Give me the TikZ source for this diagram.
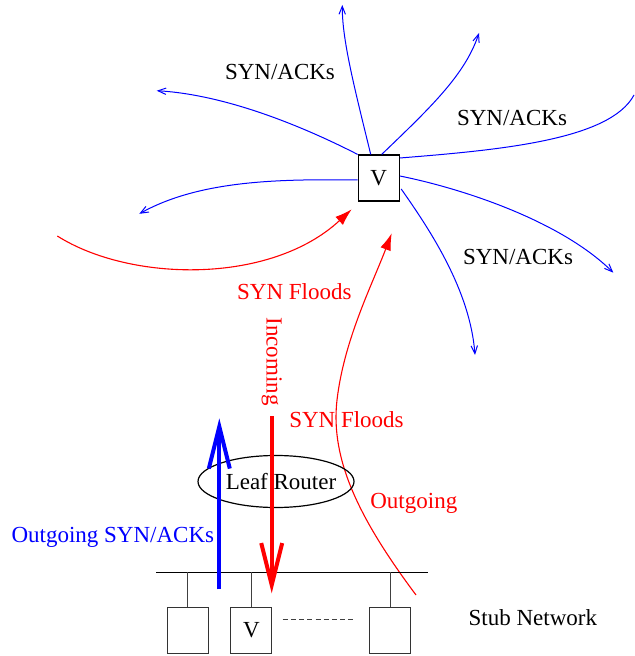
\documentclass[tikz,border=0pt]{standalone}
\usepackage{fontspec}
\setmainfont{Liberation Serif}
\usetikzlibrary{arrows.meta,shapes.geometric}
\begin{document}
\begin{tikzpicture}[x=0.5pt,y=-0.5pt,
  lbl/.style={font=\fontsize{11.5}{13}\selectfont,inner sep=0pt,anchor=base},
  synack/.style={draw=blue,line width=0.5pt,-{Straight Barb[length=4pt,width=3.2pt]}},
  flood/.style={draw=red,line width=0.55pt,-{Latex[length=8.5pt,width=5.5pt]}},
  fat/.style={line width=2pt,-{Straight Barb[length=21pt,width=10.5pt]}},
  hostbox/.style={draw=black!80,line width=0.6pt,minimum width=20.5pt,minimum height=23pt,inner sep=0pt,font=\fontsize{11.5}{13}\selectfont},
  drop/.style={draw=black!75,line width=0.6pt}]
\useasboundingbox (0,0) rectangle (634,656);

% victim node
\node[draw,line width=0.6pt,minimum width=20.5pt,minimum height=23pt,inner sep=0pt,font=\fontsize{11.5}{13}\selectfont] (V) at (378.7,178) {V};

% free ends
\coordinate (e1) at (342.3,5);
\coordinate (e2) at (479,33);
\coordinate (e3) at (634,95);
\coordinate (e4) at (613.3,272.7);
\coordinate (e5) at (475,355);
\coordinate (e6) at (156.7,90.7);
\coordinate (e7) at (139.3,213.8);

% SYN/ACK curves out of V
\draw[synack] ([xshift=-4pt]V.north) .. controls (355,90) and (342,40) .. (e1);
\draw[synack] ([xshift=1.5pt]V.north) .. controls (430,108) and (465,75) .. (e2);
\draw[draw=blue,line width=0.5pt] ([yshift=10pt]V.east) .. controls (500,150) and (610,140) .. (e3);
\draw[synack] ([yshift=1pt]V.east) .. controls (460,188) and (560,220) .. (e4);
\draw[synack] ([yshift=-5.5pt,xshift=0.7pt]V.east) .. controls (430,230) and (470,290) .. (e5);
\draw[synack] (V.north west) .. controls (310,130) and (230,95) .. (e6);
\draw[synack] ([yshift=-1pt]V.west) .. controls (280,179) and (200,180) .. (e7);

% red floods toward V
\coordinate (a0) at (57.3,236);
\coordinate (a1) at (351.7,209.3);
\draw[flood] (a0) .. controls (130,282) and (270,285) .. (a1);
\coordinate (b0) at (416,595);
\coordinate (b1) at (337,400);
\coordinate (b2) at (391.7,233.3);
\draw[flood] (b0) .. controls (360,520) and (330,460) .. (b1) .. controls (344,340) and (372,285) .. (b2);

% labels
\node[lbl] (l1) at (280,80) {SYN/ACKs};
\node[lbl] (l2) at (512,126) {SYN/ACKs};
\node[lbl] (l3) at (518,265) {SYN/ACKs};
\node[lbl,red] (l4) at (294.3,300) {SYN Floods};
\node[lbl,red,rotate=-90] (l5) at (266.7,361.7) {Incoming};
\node[lbl,red] (l6) at (346.5,427.7) {SYN Floods};
\node[lbl,red] (l7) at (413.8,508.3) {Outgoing};
\node[lbl,blue] (l8) at (112.8,542.7) {Outgoing SYN/ACKs};
\node[lbl] (l9) at (532.8,625) {Stub Network};

% leaf router
\node[draw,ellipse,line width=0.6pt,minimum width=78pt,minimum height=26pt,inner ysep=0pt,inner xsep=-8pt,font=\fontsize{11.5}{13}\selectfont] (LR) at (276,481.5) {\hspace*{5pt}Leaf Router};

% stub network bus and hosts
\coordinate (busL) at (156,572.3);
\coordinate (busR) at (427.7,572.3);
\draw[line width=0.65pt] (busL) -- (busR);
\node[hostbox] (h1) at (187.8,630.3) {};
\node[hostbox] (h2) at (251.3,630.3) {V};
\node[hostbox] (h3) at (390.3,630.3) {};
\draw[drop] (h1.north) -- (h1.north |- busL);
\draw[drop] (h2.north) -- (h2.north |- busL);
\draw[drop] (h3.north) -- (h3.north |- busL);
\coordinate (d0) at (282.7,619);
\coordinate (d1) at (353.3,619);
\draw[dash pattern=on 2.5pt off 1.6pt,line width=0.5pt,black!75] (d0) -- (d1);

% thick arrows through the leaf router
\coordinate (bu0) at (219.3,589.3);
\coordinate (bu1) at (219.3,418.3);
\draw[fat,blue] (bu0) -- (bu1);
\coordinate (rd0) at (271.7,416);
\coordinate (rd1) at (271.7,593.3);
\draw[fat,red] (rd0) -- (rd1);
\end{tikzpicture}
\end{document}
